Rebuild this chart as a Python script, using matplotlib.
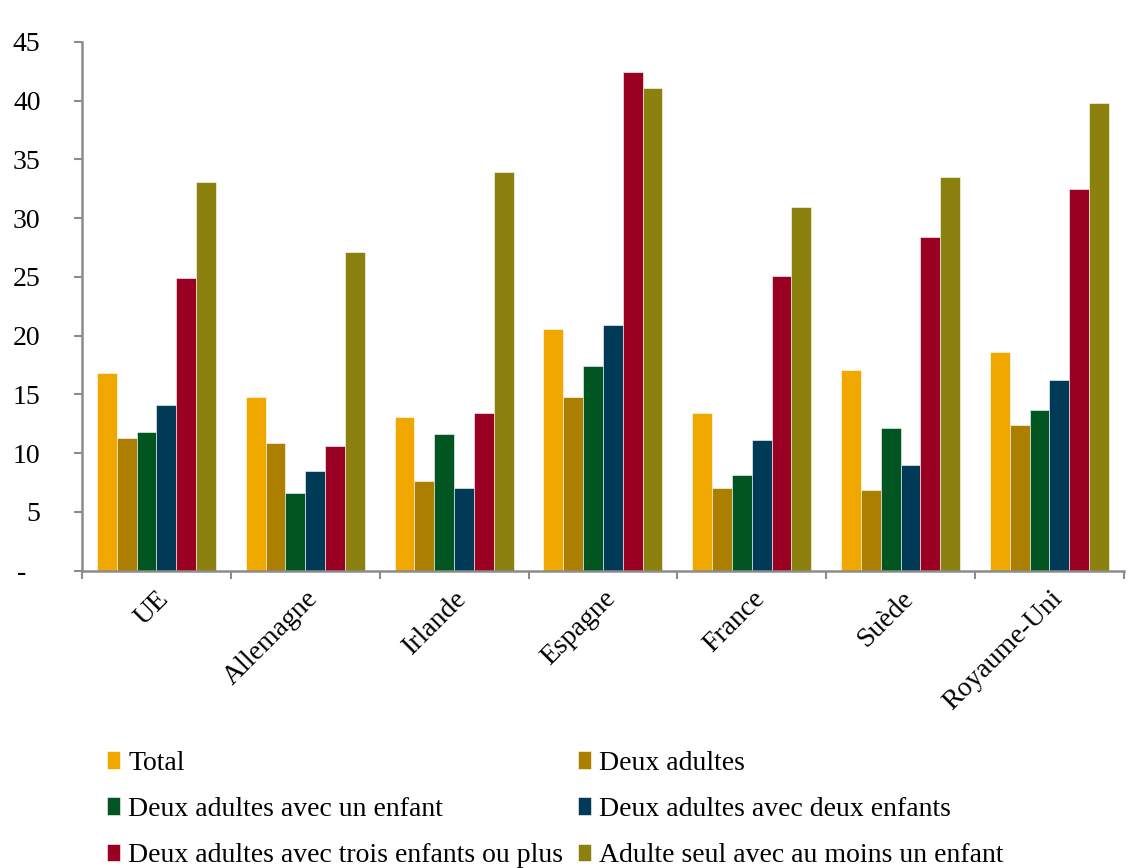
import numpy as np
import matplotlib
matplotlib.use("Agg")
import matplotlib.pyplot as plt
import matplotlib.transforms as mtransforms

plt.rcParams['font.family'] = ['Liberation Serif', 'DejaVu Serif']

countries = ["UE", "Allemagne", "Irlande", "Espagne", "France", "Suède", "Royaume-Uni"]

series_names = [
    "Total",
    "Deux adultes",
    "Deux adultes avec un enfant",
    "Deux adultes avec deux enfants",
    "Deux adultes avec trois enfants ou plus",
    "Adulte seul avec au moins un enfant",
]

total      = [16.8, 14.8, 13.1, 20.6, 13.4, 17.1, 18.6]
deux_ad    = [11.3, 10.9,  7.6, 14.8,  7.0,  6.9, 12.4]
un_enf     = [11.8,  6.6, 11.6, 17.4,  8.1, 12.1, 13.7]
deux_enf   = [14.1,  8.5,  7.0, 20.9, 11.1,  9.0, 16.2]
trois_enf  = [24.9, 10.6, 13.4, 42.4, 25.1, 28.4, 32.5]
seul       = [33.1, 27.1, 33.9, 41.1, 30.9, 33.5, 39.8]

values = [total, deux_ad, un_enf, deux_enf, trois_enf, seul]
colors = ["#F0A800", "#AD7F00", "#005521", "#003A56", "#990022", "#8C800F"]

fig = plt.figure(figsize=(11.43, 8.68), dpi=100)
ax = fig.add_axes([0.0717, 0.3425, 0.9116, 0.6094])

x = np.arange(len(countries))
w = 0.8 / 6
bars = []
for i, (vals, c, name) in enumerate(zip(values, colors, series_names)):
    b = ax.bar(x - 0.4 + w * (i + 0.5), vals, width=w, color=c, label=name,
               edgecolor="white", linewidth=0.4)
    bars.append(b)

ax.set_xlim(-0.5, len(countries) - 0.5)
ax.set_ylim(0, 45)
ax.set_yticks(range(0, 50, 5))
ax.set_yticklabels(["-  "] + [str(v) for v in range(5, 50, 5)], fontsize=20)

# ticks between categories, labels at centres
ax.set_xticks(np.arange(-0.5, len(countries), 1.0))
ax.set_xticklabels([])
ax.set_xticks(x, minor=True)
ax.set_xticklabels(countries, minor=True, rotation=45, ha="right",
                   rotation_mode="anchor", fontsize=20)
shift = mtransforms.ScaledTranslation(9 / 100, 0, fig.dpi_scale_trans)
for lab in ax.get_xticklabels(minor=True):
    lab.set_transform(lab.get_transform() + shift)
ax.tick_params(axis="x", which="minor", length=0, pad=11)
ax.tick_params(axis="x", which="major", length=5.8, color="#8c8c8c", width=1.5)
ax.tick_params(axis="y", length=5.8, color="#8c8c8c", width=1.5, pad=24)

for s in ["top", "right"]:
    ax.spines[s].set_visible(False)
for s in ["left", "bottom"]:
    ax.spines[s].set_color("#8c8c8c")
    ax.spines[s].set_linewidth(1.8)

order = [0, 2, 4, 1, 3, 5]
handles = [bars[i] for i in order]
labels = [series_names[i] for i in order]
fig.legend(handles, labels, ncol=2, loc="upper left",
           bbox_to_anchor=(0.0936, 0.1348), frameon=False, fontsize=20,
           handlelength=0.47, handleheight=0.6, handletextpad=0.29,
           labelspacing=0.76, columnspacing=0.54, borderpad=0, borderaxespad=0)

fig.savefig("out.png", dpi=100)
